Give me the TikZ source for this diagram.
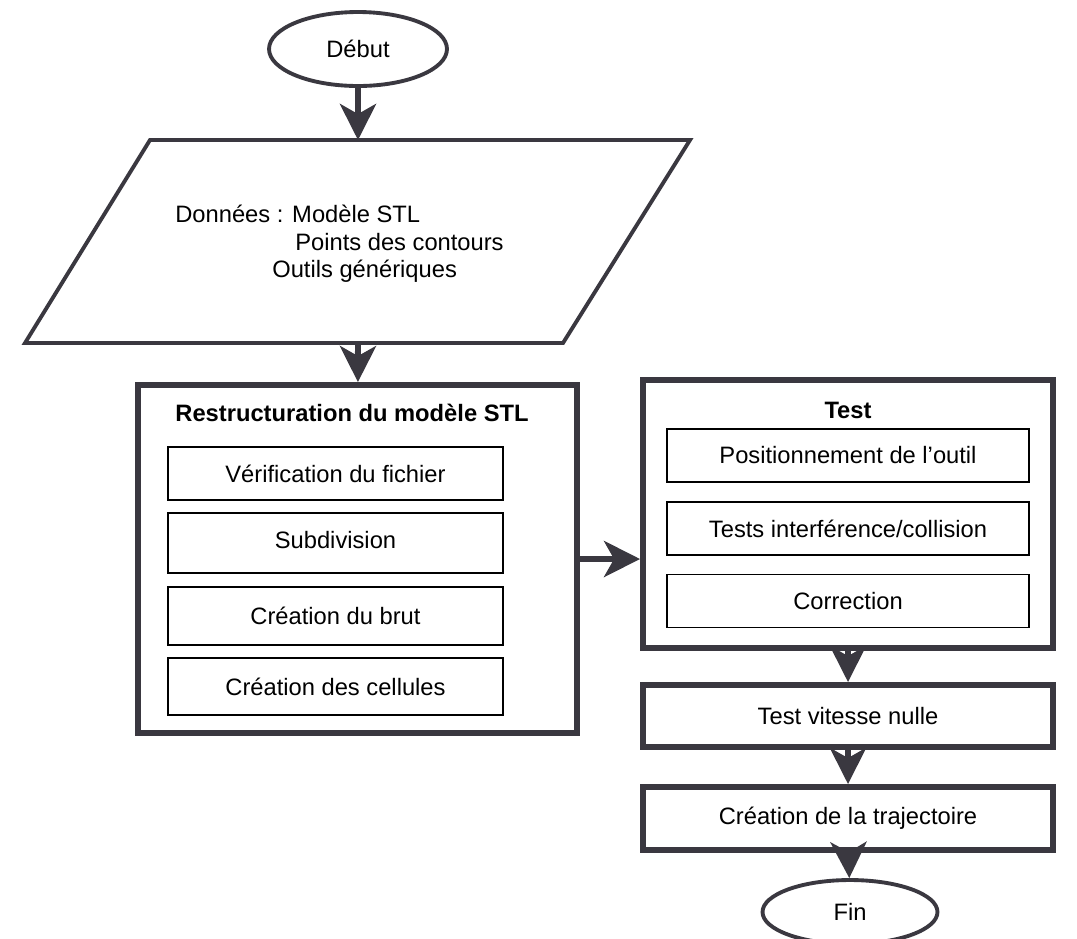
\documentclass[tikz,border=0pt]{standalone}
\usepackage{fontspec}
\setmainfont{Liberation Sans}
\usetikzlibrary{shapes,arrows.meta}
\definecolor{ink}{RGB}{58,56,64}

\begin{document}
\begin{tikzpicture}[x=0.02cm, y=-0.02cm,
  font=\fontsize{13.5}{15.6}\selectfont,
  bigbox/.style={draw=ink, line width=3.4pt, minimum width=8.2cm},
  subbox/.style={draw=black, line width=1.1pt, minimum width=7.24cm, minimum height=1.06cm},
  leftsub/.style={subbox, minimum width=6.7cm},
  terminal/.style={ellipse, draw=ink, line width=2.2pt},
  flow/.style={draw=ink, line width=3.4pt, -{Stealth[length=0.72cm, width=0.72cm, inset=0.2cm]}}]
\useasboundingbox (0,0) rectangle (1077,938);
%%% start and data %%%

      \node[terminal, minimum width=3.56cm, minimum height=1.48cm] (debut) at (358,49) {Début};
      %%
      \draw[ink, line width=2.2pt, line join=miter] (150,140) -- (690,140) -- (563,343) -- (25,343) -- cycle;
      \coordinate (donnees-n) at (358,140);
      \coordinate (donnees-s) at (358,343);
      \node[anchor=north west, inner sep=0pt, align=left] (donnees) at (175,205)
        {Données : Modèle STL\\
         \hspace*{2.4cm}Points des contours\\
         \hspace*{1.94cm}Outils génériques};

%%% restructuration %%%
      \node[bigbox, minimum width=8.78cm, minimum height=6.96cm] (restruct) at (357.5,559) {};
      \node[font=\fontsize{13.5}{15.6}\selectfont\bfseries] (restructtitle) at (352,413) {Restructuration du modèle STL};
      \node[leftsub] (verif) at (335.5,473.5) {Vérification du fichier};
      \node[leftsub, minimum height=1.2cm] (subdiv) at (335.5,543) {\raisebox{0.12cm}{Subdivision}};
      \node[leftsub, minimum height=1.16cm] (brut) at (335.5,616) {Création du brut};
      \node[leftsub, minimum height=1.14cm] (cellules) at (335.5,686.5) {Création des cellules};

%%% test %%%
      \node[bigbox, minimum height=5.36cm] (test) at (848,514) {};
      \node[font=\fontsize{13.5}{15.6}\selectfont\bfseries] (testtitle) at (848,410) {Test};
      \node[subbox] (position) at (848,455.5) {Positionnement de l’outil};
      \node[subbox] (collision) at (848,528.5) {Tests interférence/collision};
      \node[subbox] (correction) at (848,601) {Correction};

%%% end of the chain %%%
      \node[bigbox, minimum height=1.24cm] (vitesse) at (848,716) {Test vitesse nulle};
      \node[bigbox, minimum height=1.26cm] (trajectoire) at (848,818.5) {Création de la trajectoire};
      \node[terminal, minimum width=3.5cm, minimum height=1.28cm] (fin) at (850,912) {Fin};

      %% connectors
      \draw[flow] (debut) -- (donnees-n);
      \draw[flow] (donnees-s) -- (restruct);
      \draw[flow] (restruct.east) -- (restruct.east -| test.west);
      \draw[flow] (test) -- (vitesse);
      \draw[flow] (vitesse) -- (trajectoire);
      \draw[flow] (trajectoire) -- (fin);

\end{tikzpicture}
\end{document}
